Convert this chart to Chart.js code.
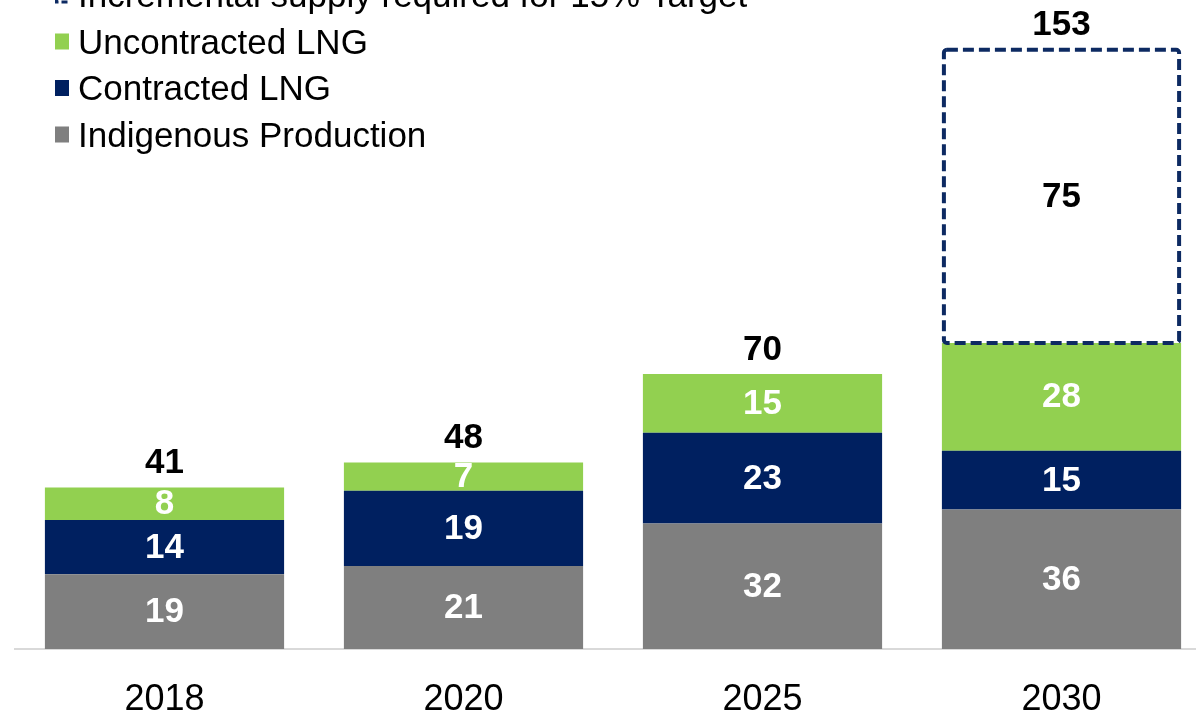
<!DOCTYPE html>
<html><head><meta charset="utf-8">
<script src="https://cdn.jsdelivr.net/npm/chart.js@4.4.1/dist/chart.umd.min.js"></script>
<style>
html,body{margin:0;padding:0;overflow:hidden;background:#fff;width:1196px;height:714px}
#wrap{position:absolute;left:0;top:0;width:1212px;height:714px}
</style></head>
<body><div id="wrap"><canvas id="c" width="1212" height="714"></canvas></div>
<script>
const categories = ['2018', '2020', '2025', '2030'];
const indigenous = [19.05, 21.2, 32.0, 35.6];
const contracted = [13.85, 19.2, 23.2, 15.0];
const uncontracted = [8.3, 7.2, 15.0, 27.5];
const incremental = [null, null, null, 74.8];
const seriesNames = ['Indigenous Production', 'Contracted LNG', 'Uncontracted LNG', 'Incremental supply required for 15% Target'];
const seriesColors = ['#7f7f7f', '#002060', '#92d050', '#0d2a62'];

const FONT = '"Liberation Sans", Arial, sans-serif';

const labelPlugin = {
  id: 'labels',
  afterDatasetsDraw(chart) {
    const ctx = chart.ctx;
    ctx.save();
    ctx.textAlign = 'center';
    ctx.textBaseline = 'middle';
    ctx.font = 'bold 35px ' + FONT;
    for (let d = 0; d < chart.data.datasets.length; d++) {
      const meta = chart.getDatasetMeta(d);
      const ds = chart.data.datasets[d];
      meta.data.forEach((el, i) => {
        const v = ds.data[i];
        if (v == null) return;
        const top = Math.min(el.y, el.base), bot = Math.max(el.y, el.base);
        if (d === 3) {
          ctx.save();
          ctx.strokeStyle = seriesColors[3];
          ctx.lineWidth = 4;
          ctx.setLineDash([11, 5]);
          const lw = 2;
          ctx.beginPath();
          const x0 = el.x - el.width / 2 + lw, w = el.width - 2 * lw;
          if (ctx.roundRect) ctx.roundRect(x0, top, w, bot - top, 3);
          else ctx.rect(x0, top, w, bot - top);
          ctx.stroke();
          ctx.restore();
          ctx.fillStyle = '#000';
        } else {
          ctx.fillStyle = '#fff';
        }
        ctx.fillText(String(Math.round(v)), el.x, (top + bot) / 2 + 1);
      });
    }
    ctx.fillStyle = '#000';
    categories.forEach((c, i) => {
      let sum = 0, topY = Infinity, x = 0;
      chart.data.datasets.forEach((ds, d) => {
        const v = ds.data[i];
        if (v == null) return;
        sum += v;
        const el = chart.getDatasetMeta(d).data[i];
        topY = Math.min(topY, el.y);
        x = el.x;
      });
      ctx.fillText(String(Math.round(sum)), x, topY - 24);
    });
    ctx.restore();
  },
  afterDraw(chart) {
    const ctx = chart.ctx;
    ctx.save();
    ctx.font = '35px ' + FONT;
    ctx.textBaseline = 'alphabetic';
    ctx.textAlign = 'left';
    const order = [3, 2, 1, 0];
    order.forEach((d, k) => {
      const base = 7 + k * 46.5;
      const my = base - 12;
      if (d === 3) {
        ctx.save();
        ctx.strokeStyle = seriesColors[3];
        ctx.lineWidth = 3;
        ctx.setLineDash([6, 3]);
        ctx.strokeRect(56.5, my - 7, 12, 14);
        ctx.restore();
      } else {
        ctx.fillStyle = seriesColors[d];
        ctx.fillRect(55, my - 8, 14, 16);
      }
      ctx.fillStyle = '#000';
      ctx.fillText(seriesNames[d], 78, base);
    });
    ctx.restore();
  }
};

new Chart(document.getElementById('c'), {
  type: 'bar',
  data: {
    labels: categories,
    datasets: [
      { label: seriesNames[0], data: indigenous, backgroundColor: seriesColors[0] },
      { label: seriesNames[1], data: contracted, backgroundColor: seriesColors[1] },
      { label: seriesNames[2], data: uncontracted, backgroundColor: seriesColors[2] },
      { label: seriesNames[3], data: incremental, backgroundColor: 'rgba(0,0,0,0)', borderWidth: 0 }
    ]
  },
  options: {
    responsive: false,
    animation: false,
    devicePixelRatio: 1,
    layout: { padding: { left: 15, right: 1, top: 0, bottom: -37 } },
    datasets: { bar: { barPercentage: 0.8, categoryPercentage: 1.0, borderWidth: 0 } },
    plugins: { legend: { display: false }, tooltip: { enabled: false } },
    scales: {
      x: {
        stacked: true,
        grid: { display: false, drawTicks: false },
        border: { display: true, color: '#d9d9d9', width: 2 },
        ticks: { color: '#000', padding: 33, font: { family: FONT, size: 36, lineHeight: 1 } }
      },
      y: { stacked: true, display: false, min: 0, max: 165.6 }
    }
  },
  plugins: [labelPlugin]
});
</script>
</body></html>
